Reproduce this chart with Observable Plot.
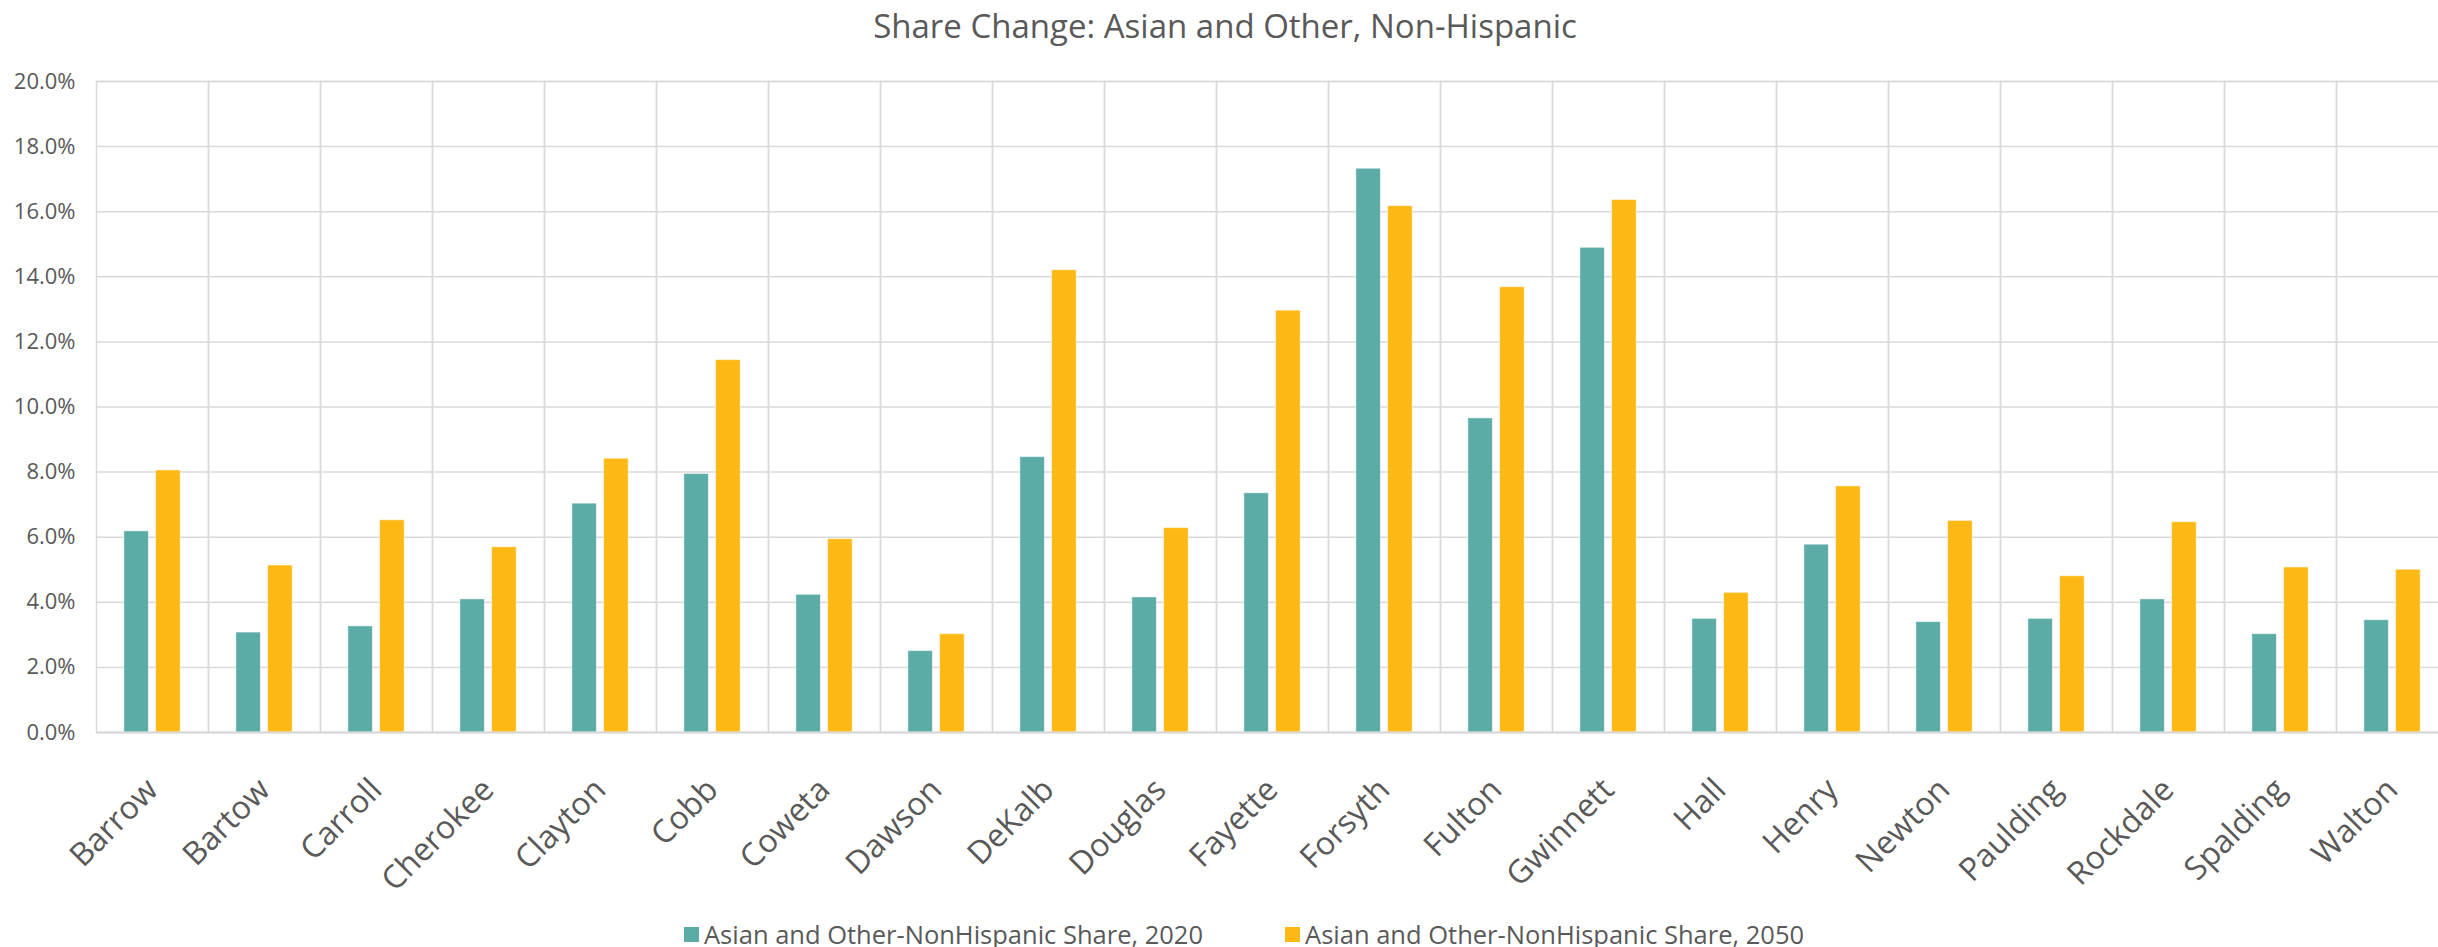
<!DOCTYPE html>
<html>
<head>
<meta charset="utf-8">
<script src="https://cdn.jsdelivr.net/npm/d3@7"></script>
<script src="https://cdn.jsdelivr.net/npm/@observablehq/plot@0.6"></script>
<style>
  html, body { margin: 0; padding: 0; background: #fff; overflow: hidden; }
  body { width: 2438px; height: 947px; position: relative; font-family: "Open Sans", sans-serif; color: #595959; }
  #title { height: 52px; line-height: 52px; width: 2450px; text-align: center; font-size: 33px; color: #595959; }
  #chart svg { max-width: none !important; display: block; }
  #legend { position: absolute; top: 917px; left: 684px; display: flex; align-items: center; font-size: 25.5px; color: #595959; white-space: nowrap; }
  .item { display: flex; align-items: center; margin-right: 82px; }
  .sw { width: 15px; height: 15px; margin-right: 5px; }
</style>
</head>
<body>
<div id="title">Share Change: Asian and Other, Non-Hispanic</div>
<div id="chart"></div>
<div id="legend"></div>
<script>
const counties = ["Barrow","Bartow","Carroll","Cherokee","Clayton","Cobb","Coweta","Dawson","DeKalb","Douglas","Fayette","Forsyth","Fulton","Gwinnett","Hall","Henry","Newton","Paulding","Rockdale","Spalding","Walton"];
const share2020 = [6.18, 3.07, 3.26, 4.09, 7.03, 7.94, 4.23, 2.50, 8.46, 4.15, 7.35, 17.32, 9.65, 14.89, 3.49, 5.77, 3.39, 3.49, 4.09, 3.02, 3.45];
const share2050 = [8.05, 5.13, 6.52, 5.69, 8.41, 11.44, 5.94, 3.02, 14.20, 6.28, 12.96, 16.17, 13.68, 16.36, 4.29, 7.56, 6.50, 4.80, 6.46, 5.07, 5.00];
const seriesNames = ["Asian and Other-NonHispanic Share, 2020", "Asian and Other-NonHispanic Share, 2050"];
const seriesColors = ["#5BABA7", "#FDB813"];
const yTicks = [0, 2, 4, 6, 8, 10, 12, 14, 16, 18, 20];

const data = [];
counties.forEach((c, i) => {
  data.push({county: c, series: seriesNames[0], value: share2020[i]});
  data.push({county: c, series: seriesNames[1], value: share2050[i]});
});

const chart = Plot.plot({
  width: 2448,
  height: 850,
  marginTop: 29,
  marginBottom: 170,
  marginLeft: 96,
  marginRight: 0,
  style: {fontFamily: "'Open Sans', sans-serif", color: "#595959", background: "transparent"},
  fx: {domain: counties, padding: 0, round: false, label: null, axis: null},
  x: {domain: seriesNames, paddingInner: 0.228, paddingOuter: 0.877, round: false, axis: null},
  y: {domain: [0, 20], label: null, axis: null},
  color: {domain: seriesNames, range: seriesColors},
  marks: [
    Plot.gridY(yTicks, {stroke: "#d9d9d9", strokeOpacity: 1, strokeWidth: 1.5}),
    Plot.frame({stroke: "#d9d9d9", strokeWidth: 1.5}),
    Plot.barY(data, {fx: "county", x: "series", y: "value", fill: "series", stroke: "#ffffff", strokeOpacity: 0.5, strokeWidth: 1}),
    Plot.ruleY([0], {stroke: "#d9d9d9", strokeWidth: 2}),
    Plot.axisY({ticks: yTicks, tickFormat: d => d.toFixed(1) + "%", tickSize: 0, tickPadding: 21, fontSize: 22, label: null, fill: "#595959"}),
    Plot.axisFx({anchor: "bottom", tickRotate: -45, tickSize: 0, tickPadding: 52, fontSize: 32, label: null, fill: "#595959"})
  ]
});
document.getElementById("chart").appendChild(chart);

const legend = document.getElementById("legend");
seriesNames.forEach((s, i) => {
  const it = document.createElement("div");
  it.className = "item";
  const sw = document.createElement("div");
  sw.className = "sw";
  sw.style.background = seriesColors[i];
  const t = document.createElement("span");
  t.textContent = s;
  it.appendChild(sw); it.appendChild(t);
  legend.appendChild(it);
});
</script>
</body>
</html>
